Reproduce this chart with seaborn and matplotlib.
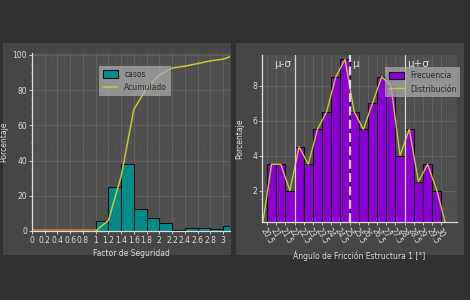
import numpy as np
import matplotlib
matplotlib.use("Agg")
import matplotlib.pyplot as plt
from matplotlib.patches import Rectangle, Patch
from matplotlib.lines import Line2D
from matplotlib.ticker import MultipleLocator, AutoMinorLocator
import seaborn as sns

# left panel: safety factor histogram
fs_edges = [round(0.2 * i, 1) for i in range(17)]
fs_casos = [0, 0, 0, 0, 0, 5.5, 25, 38, 12.5, 7.5, 4.5, 0.5, 1.5, 1.5, 1, 3]
fs_acum_x = [1.0, 1.2, 1.4, 1.6, 1.8, 2.0, 2.2, 2.4, 2.6, 2.8, 3.0, 3.2]
fs_acum_y = [0, 6, 31, 69, 81, 88.5, 92.5, 93.5, 95, 96.5, 97.5, 100]
fs_pre_x = [0, 1.0]
fs_pre_y = [0.6, 0.6]

# right panel: friction angle histogram
ang_edges = [20.5 + 0.5 * i for i in range(20)]
ang_freq = [3.5, 3.5, 2, 4.5, 3.5, 5.5, 6.5, 8.5, 9.5, 6.5,
            5.5, 7, 8.5, 8, 4, 5.5, 2.5, 3.5, 2]
ang_dist_x = [20.25] + [e + 0.25 for e in ang_edges[:-1]] + [30.25]
ang_dist_y = [0] + ang_freq + [0]
mu, sigma = 25.0, 3.0

BG = "#323232"
PANEL = "#464646"
PLOT = "#4f4f4f"
TXT = "#dcdcdc"
YEL = "#c8c832"
TEAL = "#008b8b"
PURPLE = "#8c00d4"

sns.set_theme(style="dark")
plt.rcParams["font.family"] = ["DejaVu Sans"]

fig = plt.figure(figsize=(4.7, 3.0), dpi=100, facecolor=BG)
W, H = 470, 300
for x0, x1 in [(3, 231), (236, 464)]:
    fig.patches.append(Rectangle((x0 / W, (H - 255) / H), (x1 - x0) / W, 212 / H,
                                 transform=fig.transFigure, facecolor=PANEL,
                                 edgecolor="none", zorder=-10))


def px_axes(l, r, t, b):
    return fig.add_axes([l / W, (H - b) / H, (r - l) / W, (b - t) / H])


def style(ax):
    ax.set_facecolor(PLOT)
    for s in ["top", "right"]:
        ax.spines[s].set_visible(False)
    for s in ["left", "bottom"]:
        ax.spines[s].set_color(TXT)
        ax.spines[s].set_linewidth(0.9)
    ax.tick_params(colors=TXT, labelsize=5.5, length=2, width=0.6, pad=1.5,
                   bottom=True, left=True)
    ax.tick_params(which="minor", colors=TXT, length=1, width=0.4, left=True)
    ax.grid(True, which="major", color="#656565", linewidth=0.6)
    ax.grid(True, which="minor", color="#575757", linewidth=0.4)
    ax.set_axisbelow(True)


def legend(ax, handles, labels, anchor):
    leg = ax.legend(handles, labels, loc="upper left", bbox_to_anchor=anchor,
                    fontsize=5.5, frameon=True, facecolor="#a8a8a8",
                    framealpha=0.75, edgecolor="none", fancybox=False,
                    handlelength=2.0, handleheight=1.1, handletextpad=0.8,
                    borderpad=0.5, labelspacing=0.6)
    for t in leg.get_texts():
        t.set_color("#2a2a2a")
    return leg


# ---- left
ax1 = px_axes(32, 230, 53, 231)
style(ax1)
sns.histplot(x=[e + 0.1 for e in fs_edges[:-1]], weights=fs_casos, bins=fs_edges,
             color=TEAL, edgecolor="#101010", linewidth=0.8, alpha=1, ax=ax1)
sns.lineplot(x=fs_pre_x, y=fs_pre_y, color="#d0702a", linewidth=1.2, ax=ax1)
sns.lineplot(x=fs_acum_x, y=fs_acum_y, color=YEL, linewidth=1.1, ax=ax1)
ax1.set_xlim(0, 3.11)
ax1.set_ylim(0, 101)
ax1.xaxis.set_major_locator(MultipleLocator(0.2))
ax1.xaxis.set_minor_locator(AutoMinorLocator(2))
ax1.yaxis.set_major_locator(MultipleLocator(20))
ax1.yaxis.set_minor_locator(AutoMinorLocator(4))
ax1.set_xticklabels([f"{v:g}" for v in ax1.get_xticks()])
ax1.set_xlabel("Factor de Seguridad", color=TXT, fontsize=5.5, labelpad=3)
ax1.set_ylabel("Porcentaje", color=TXT, fontsize=5.5)
ax1.yaxis.set_label_coords(-0.12, 0.5)
legend(ax1,
       [Patch(facecolor=TEAL, edgecolor="#101010", linewidth=0.8),
        Line2D([], [], color=YEL, linewidth=1.1)],
       ["casos", "Acumulado"], (0.32, 0.95))

# ---- right
ax2 = px_axes(262, 457, 55, 222)
style(ax2)
sns.histplot(x=[e + 0.25 for e in ang_edges[:-1]], weights=ang_freq, bins=ang_edges,
             color=PURPLE, edgecolor="#101010", linewidth=0.8, alpha=1, ax=ax2)
sns.lineplot(x=ang_dist_x, y=ang_dist_y, color=YEL, linewidth=1.0, ax=ax2)
for v, ls, lw in [(mu - sigma, "-", 0.9), (mu, (0, (4, 2)), 1.6), (mu + sigma, "-", 0.9)]:
    ax2.axvline(v, color="#d8d8d8", linestyle=ls, linewidth=lw, zorder=3)
ax2.text(mu - sigma - 0.2, 9.25, "μ-σ", color=TXT, fontsize=7.5, ha="right", va="center")
ax2.text(mu + 0.15, 9.25, "μ", color=TXT, fontsize=7.5, ha="left", va="center")
ax2.text(mu + sigma + 0.15, 9.25, "μ+σ", color=TXT, fontsize=7.5, ha="left", va="center")
ax2.set_xlim(20.23, 30.85)
ax2.set_ylim(0.2, 9.75)
ax2.xaxis.set_minor_locator(AutoMinorLocator(2))
ax2.yaxis.set_major_locator(MultipleLocator(2))
ax2.yaxis.set_minor_locator(AutoMinorLocator(4))
ax2.set_xticks(ang_edges)
ax2.set_xticklabels([f"{v:g}" for v in ang_edges], rotation=-60, ha="left",
                    rotation_mode="anchor")
ax2.set_xlabel("Ángulo de Fricción Estructura 1 [°]", color=TXT, fontsize=5.5, labelpad=3)
ax2.set_ylabel("Porcentaje", color=TXT, fontsize=5.5)
ax2.yaxis.set_label_coords(-0.09, 0.5)
legend(ax2,
       [Patch(facecolor=PURPLE, edgecolor="#101010", linewidth=0.8),
        Line2D([], [], color=YEL, linewidth=1.0)],
       ["Frecuencia", "Distribución"], (0.61, 0.95))

fig.savefig("out.png", dpi=100, facecolor=BG)
